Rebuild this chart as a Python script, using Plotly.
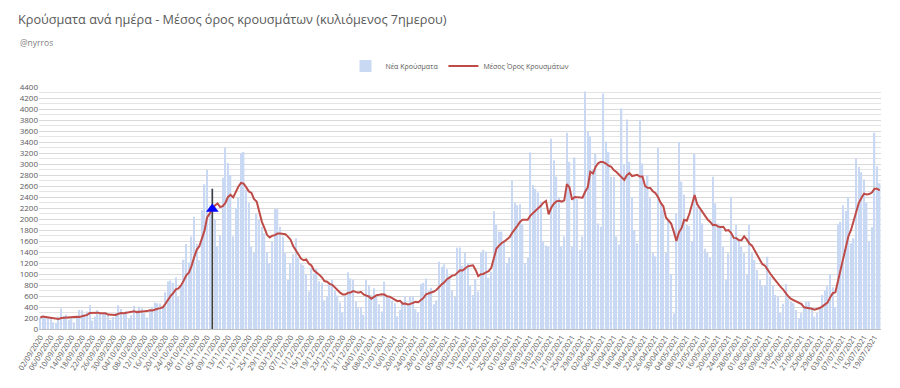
import pandas as pd
import plotly.graph_objects as go

start_date = "2020-09-02"

# Daily new cases (02/09/2020 .. 21/07/2021)
sep_2020 = [210, 241, 203, 181, 188, 120, 106, 225, 372, 238,
            262, 169, 195, 116, 214, 345, 339, 272, 317, 433,
            152, 227, 342, 271, 280, 300, 269, 164, 218]
oct_2020 = [289, 430, 364, 276, 321, 187, 249, 418, 335, 407,
            376, 284, 210, 348, 404, 480, 467, 463, 388, 667,
            865, 882, 841, 935, 580, 792, 1259, 1547, 1211, 1680, 2040]
nov_2020 = [1550, 1250, 2160, 2630, 2890, 2250, 2550, 2000, 1500, 1700,
            2750, 3300, 3020, 2800, 1680, 2190, 2400, 3200, 3220, 2530,
            2290, 1500, 1380, 2100, 1980, 1860, 1740, 1400, 1200, 1590]
dec_2020 = [2180, 2180, 1860, 1680, 1380, 890, 1200, 1360, 1650, 1300,
            1190, 1160, 1000, 680, 1100, 1010, 1090, 870, 830, 520,
            590, 830, 890, 700, 610, 480, 300, 590, 1030, 920, 900]
jan_2021 = [500, 380, 400, 260, 900, 800, 620, 740, 590, 450,
            320, 860, 590, 560, 520, 470, 230, 350, 500, 600,
            460, 590, 590, 360, 300, 820, 840, 920, 690, 750, 450]
feb_2021 = [520, 1224, 1130, 1176, 1085, 960, 700, 580, 1480, 1480,
            1150, 1390, 1200, 780, 620, 900, 680, 1390, 1440, 1410,
            930, 1040, 2140, 1890, 1770, 1770, 1600, 1200]
mar_2021 = [1300, 2700, 2300, 2250, 2270, 1900, 1200, 1300, 3210, 2620,
            2550, 2480, 2320, 1600, 1520, 1500, 3460, 3070, 2770, 2400,
            1500, 1680, 3570, 3040, 1500, 3120, 2360, 1440, 1680, 4320, 3590]
apr_2021 = [3500, 2900, 3190, 1920, 1860, 4280, 3410, 3220, 2770, 2770,
            1680, 1530, 4010, 3000, 3810, 3040, 2400, 1800, 1560, 3800,
            3010, 2590, 2800, 2380, 1380, 1320, 3290, 2290, 2160, 1380]
may_2021 = [1990, 1000, 280, 2100, 3400, 2680, 2440, 1890, 1870, 1600,
            3180, 2220, 2160, 1920, 1460, 1380, 1300, 2770, 2285, 1920,
            1860, 1497, 890, 1376, 2406, 1648, 1890, 1600, 1497, 1376, 982]
jun_2021 = [1890, 1376, 1254, 1072, 890, 780, 800, 1315, 950, 800,
            620, 580, 290, 460, 818, 557, 497, 470, 345, 194,
            290, 406, 497, 497, 345, 224, 290, 406, 620, 700]
jul_2021 = [780, 1000, 760, 400, 1900, 1950, 2250, 2150, 2400, 1560,
            1650, 3100, 2950, 2850, 2720, 2300, 1600, 1850, 3570, 2960, 2650]

new_cases = (sep_2020 + oct_2020 + nov_2020 + dec_2020 + jan_2021 + feb_2021
             + mar_2021 + apr_2021 + may_2021 + jun_2021 + jul_2021)
dates = pd.date_range(start_date, periods=len(new_cases), freq="D")

# 7-day rolling mean of the daily values
moving_avg = pd.Series(new_cases, index=dates).rolling(7, min_periods=1).mean()

# Marker (vertical line + triangle) on 07/11/2020
marker_date = pd.Timestamp("2020-11-07")
marker_line_top = 2550

series_names = ["Νέα Κρούσματα", "Μέσος Όρος Κρουσμάτων"]
title_text = "Κρούσματα ανά ημέρα - Μέσος όρος κρουσμάτων (κυλιόμενος 7ημερου)"
subtitle_text = "@nyrros"

FONT = "Open Sans"
GREY = "#595959"

fig = go.Figure()
fig.add_trace(go.Bar(
    x=dates, y=new_cases, name=series_names[0],
    marker=dict(color="#c9d9f4", line=dict(width=0)),
))
fig.add_trace(go.Scatter(
    x=[marker_date, marker_date], y=[0, marker_line_top], mode="lines",
    line=dict(color="#404040", width=1.6), showlegend=False, hoverinfo="skip",
))
fig.add_trace(go.Scatter(
    x=dates, y=moving_avg.values, name=series_names[1], mode="lines",
    line=dict(color="#be4b48", width=2),
))
fig.add_trace(go.Scatter(
    x=[marker_date], y=[moving_avg.loc[marker_date]], mode="markers",
    marker=dict(symbol="triangle-up", size=11, color="#0000ff"),
    showlegend=False, hoverinfo="skip",
))

fig.update_layout(
    width=900, height=388,
    margin=dict(l=39, r=19, t=87, b=59),
    paper_bgcolor="white", plot_bgcolor="white",
    bargap=0.45,
    font=dict(family=FONT, color=GREY, size=8),
    title=dict(text=title_text, x=18 / 900, xanchor="left", xref="container",
               y=1 - 20 / 388, yanchor="middle", yref="container",
               font=dict(family=FONT, size=12.7, color=GREY)),
    annotations=[dict(text=subtitle_text, xref="paper", yref="paper",
                      x=(18 - 39) / 842, y=(329 - 43) / 242,
                      xanchor="left", yanchor="middle", showarrow=False,
                      font=dict(family=FONT, size=8.5, color="#7f7f7f"))],
    legend=dict(orientation="h", x=0.5, xanchor="center",
                y=(329 - 66) / 242, yanchor="middle",
                font=dict(family=FONT, size=7, color=GREY),
                itemwidth=30, tracegroupgap=0),
    showlegend=True,
)
fig.update_yaxes(
    range=[0, 4400], dtick=200, tick0=0, showgrid=True, gridcolor="#d9d9d9",
    gridwidth=1, zeroline=False, ticks="", tickfont=dict(size=8, color=GREY),
    minor=dict(dtick=100, showgrid=True, gridcolor="#e4e4e4", gridwidth=1),
    automargin=False,
)
fig.update_xaxes(
    type="date",
    range=[dates[0] - pd.Timedelta(hours=12), dates[-1] + pd.Timedelta(hours=12)],
    tick0=start_date, dtick=4 * 86400000, tickformat="%d/%m/%Y",
    tickangle=-58, tickfont=dict(size=7.5, color=GREY),
    showgrid=False, showline=True, linecolor="#bfbfbf", linewidth=1,
    ticks="", automargin=False,
)

fig.write_html("out.html", config={"displayModeBar": False},
               post_script="document.body.style.margin='0px';")
